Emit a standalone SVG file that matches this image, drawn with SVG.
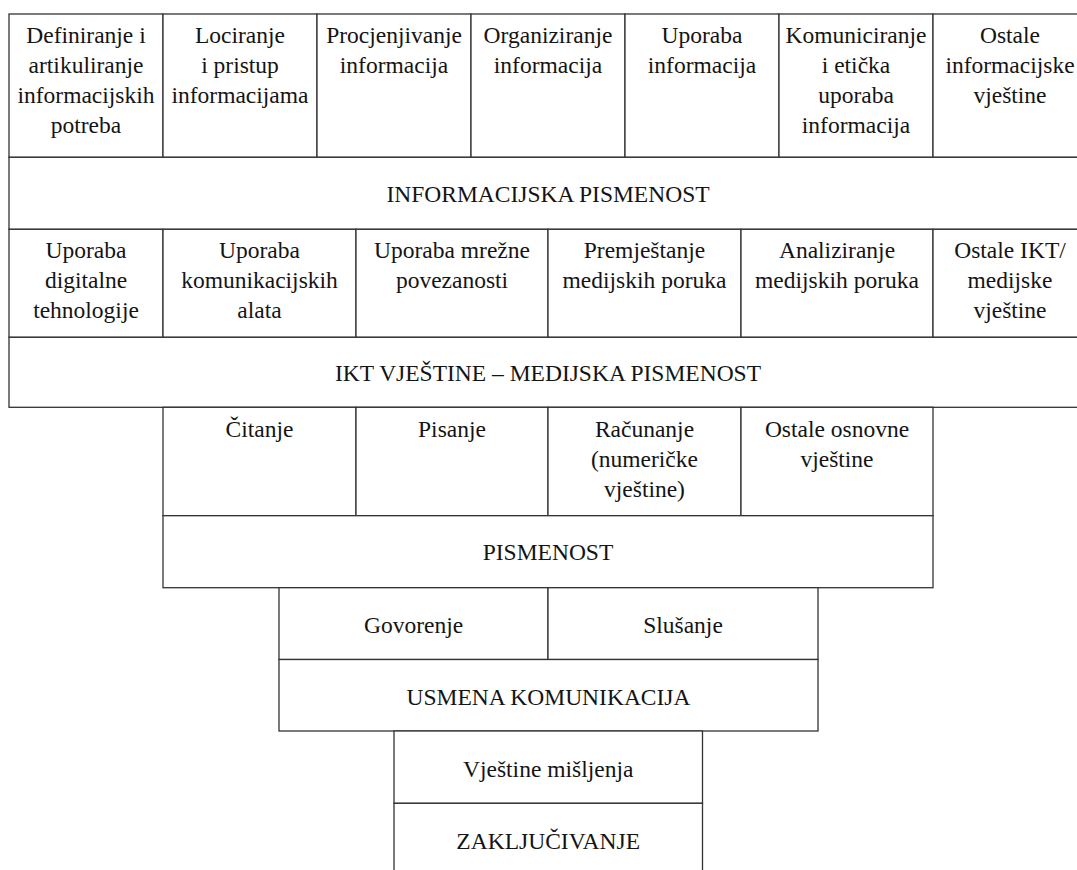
<svg xmlns="http://www.w3.org/2000/svg" width="1077" height="870" viewBox="0 0 1077 870">
<style>
.c{fill:#ffffff;stroke:#333333;stroke-width:1.3}
.t{font-family:"Liberation Serif","Times New Roman",serif;font-size:23.5px;fill:#141414;text-anchor:middle}
</style>
<rect x="0" y="0" width="1077" height="870" fill="#ffffff"/>
<g id="row-info-skills">
<g id="n-definiranje"><rect class="c" x="9" y="14" width="154" height="143.3"/><text class="t" x="86"><tspan x="86" y="42.5">Definiranje i</tspan><tspan x="86" y="72.5">artikuliranje</tspan><tspan x="86" y="102.5">informacijskih</tspan><tspan x="86" y="132.5">potreba</tspan></text></g>
<g id="n-lociranje"><rect class="c" x="163" y="14" width="154" height="143.3"/><text class="t"><tspan x="240" y="42.5">Lociranje</tspan><tspan x="240" y="72.5">i pristup</tspan><tspan x="240" y="102.5">informacijama</tspan></text></g>
<g id="n-procjenjivanje"><rect class="c" x="317" y="14" width="154" height="143.3"/><text class="t"><tspan x="394" y="42.5">Procjenjivanje</tspan><tspan x="394" y="72.5">informacija</tspan></text></g>
<g id="n-organiziranje"><rect class="c" x="471" y="14" width="154" height="143.3"/><text class="t"><tspan x="548" y="42.5">Organiziranje</tspan><tspan x="548" y="72.5">informacija</tspan></text></g>
<g id="n-uporaba-inf"><rect class="c" x="625" y="14" width="154" height="143.3"/><text class="t"><tspan x="702" y="42.5">Uporaba</tspan><tspan x="702" y="72.5">informacija</tspan></text></g>
<g id="n-komuniciranje"><rect class="c" x="779" y="14" width="154" height="143.3"/><text class="t"><tspan x="856" y="42.5">Komuniciranje</tspan><tspan x="856" y="72.5">i etička</tspan><tspan x="856" y="102.5">uporaba</tspan><tspan x="856" y="132.5">informacija</tspan></text></g>
<g id="n-ostale-inf"><rect class="c" x="933" y="14" width="160" height="143.3"/><text class="t"><tspan x="1010" y="42.5">Ostale</tspan><tspan x="1010" y="72.5">informacijske</tspan><tspan x="1010" y="102.5">vještine</tspan></text></g>
</g>
<g id="n-informacijska-pismenost"><rect class="c" x="9" y="157.3" width="1084" height="72"/><text class="t" x="548" y="202">INFORMACIJSKA PISMENOST</text></g>
<g id="row-ikt-skills">
<g id="n-digitalne"><rect class="c" x="9" y="229.3" width="154" height="108"/><text class="t"><tspan x="86" y="258.3">Uporaba</tspan><tspan x="86" y="288.3">digitalne</tspan><tspan x="86" y="318.3">tehnologije</tspan></text></g>
<g id="n-komunikacijskih"><rect class="c" x="163" y="229.3" width="193" height="108"/><text class="t"><tspan x="259.5" y="258.3">Uporaba</tspan><tspan x="259.5" y="288.3">komunikacijskih</tspan><tspan x="259.5" y="318.3">alata</tspan></text></g>
<g id="n-mrezne"><rect class="c" x="356" y="229.3" width="192" height="108"/><text class="t"><tspan x="452" y="258.3">Uporaba mrežne</tspan><tspan x="452" y="288.3">povezanosti</tspan></text></g>
<g id="n-premjestanje"><rect class="c" x="548" y="229.3" width="193" height="108"/><text class="t"><tspan x="644.5" y="258.3">Premještanje</tspan><tspan x="644.5" y="288.3">medijskih poruka</tspan></text></g>
<g id="n-analiziranje"><rect class="c" x="741" y="229.3" width="192" height="108"/><text class="t"><tspan x="837" y="258.3">Analiziranje</tspan><tspan x="837" y="288.3">medijskih poruka</tspan></text></g>
<g id="n-ostale-ikt"><rect class="c" x="933" y="229.3" width="160" height="108"/><text class="t"><tspan x="1010" y="258.3">Ostale IKT/</tspan><tspan x="1010" y="288.3">medijske</tspan><tspan x="1010" y="318.3">vještine</tspan></text></g>
</g>
<g id="n-ikt-vjestine"><rect class="c" x="9" y="337.3" width="1084" height="70"/><text class="t" x="548" y="380.5">IKT VJEŠTINE – MEDIJSKA PISMENOST</text></g>
<g id="row-basic-skills">
<g id="n-citanje"><rect class="c" x="163" y="407.3" width="193" height="108.4"/><text class="t" x="259.5" y="436.7">Čitanje</text></g>
<g id="n-pisanje"><rect class="c" x="356" y="407.3" width="192" height="108.4"/><text class="t" x="452" y="436.7">Pisanje</text></g>
<g id="n-racunanje"><rect class="c" x="548" y="407.3" width="193" height="108.4"/><text class="t"><tspan x="644.5" y="436.7">Računanje</tspan><tspan x="644.5" y="466.7">(numeričke</tspan><tspan x="644.5" y="496.7">vještine)</tspan></text></g>
<g id="n-ostale-osnovne"><rect class="c" x="741" y="407.3" width="192" height="108.4"/><text class="t"><tspan x="837" y="436.7">Ostale osnovne</tspan><tspan x="837" y="466.7">vještine</tspan></text></g>
</g>
<g id="n-pismenost"><rect class="c" x="163" y="515.7" width="770" height="72"/><text class="t" x="548" y="560">PISMENOST</text></g>
<g id="row-oral">
<g id="n-govorenje"><rect class="c" x="279" y="587.7" width="269" height="71.8"/><text class="t" x="413.5" y="633">Govorenje</text></g>
<g id="n-slusanje"><rect class="c" x="548" y="587.7" width="270" height="71.8"/><text class="t" x="683" y="633">Slušanje</text></g>
</g>
<g id="n-usmena"><rect class="c" x="279" y="659.5" width="539" height="71.5"/><text class="t" x="548.5" y="704.5">USMENA KOMUNIKACIJA</text></g>
<g id="n-vjestine-misljenja"><rect class="c" x="394" y="731" width="308.5" height="72.3"/><text class="t" x="548.2" y="777">Vještine mišljenja</text></g>
<g id="n-zakljucivanje"><rect class="c" x="394" y="803.3" width="308.5" height="80"/><text class="t" x="548.2" y="849">ZAKLJUČIVANJE</text></g>
</svg>
